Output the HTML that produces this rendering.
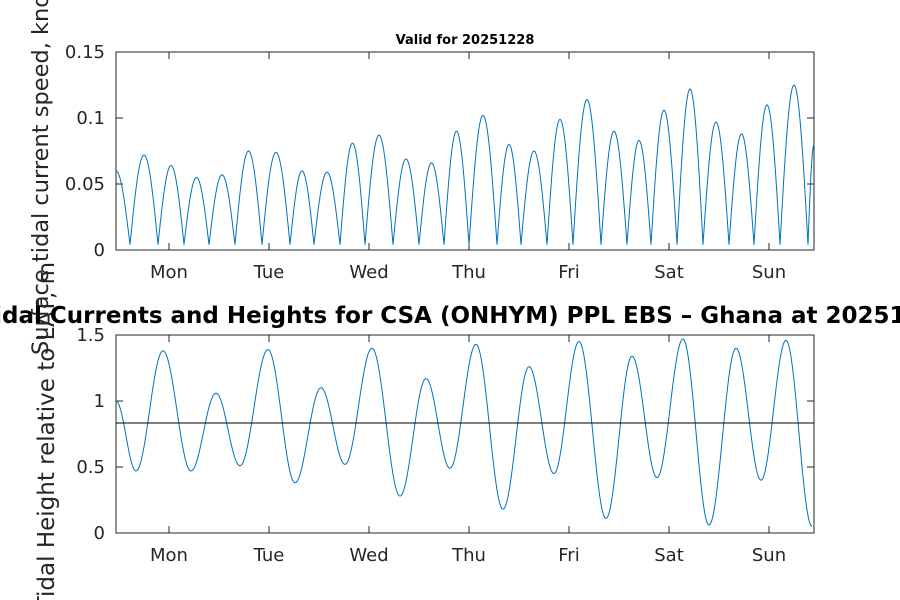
<!DOCTYPE html>
<html><head><meta charset="utf-8"><style>
body{margin:0;background:#fff;}
svg{display:block;font-family:"DejaVu Sans","Liberation Sans",sans-serif;}
</style></head><body>
<svg id="fig" width="900" height="600"></svg>
<script>
// ---- data (time in days from Monday 00:00) ----
const dayLabels = ["Mon","Tue","Wed","Thu","Fri","Sat","Sun"];
const speedTicks = [0,0.05,0.1,0.15];
const heightTicks = [0,0.5,1,1.5];
// current speed lobes: zero-crossing times and peak values
const speedZeros = [-0.39,-0.11,0.15,0.40,0.66,0.93,1.21,1.45,1.71,1.96,2.24,2.50,2.75,3.00,3.28,3.52,3.78,4.04,4.32,4.58,4.82,5.08,5.34,5.60,5.85,6.11,6.39];
const speedPeaks = [0.072,0.064,0.055,0.057,0.075,0.074,0.060,0.059,0.081,0.087,0.069,0.066,0.090,0.102,0.080,0.075,0.099,0.114,0.090,0.083,0.106,0.122,0.097,0.088,0.110,0.125];
const speedStart = 0.060, speedEnd = 0.080;
// tidal height extremes
const heightTimes = [-0.53,-0.33,-0.06,0.22,0.47,0.71,0.99,1.26,1.52,1.76,2.03,2.31,2.57,2.81,3.07,3.34,3.60,3.85,4.10,4.37,4.63,4.88,5.14,5.40,5.67,5.92,6.17,6.43];
const heightVals  = [1.00,0.47,1.38,0.47,1.06,0.51,1.39,0.38,1.10,0.52,1.40,0.28,1.17,0.49,1.43,0.18,1.26,0.45,1.45,0.11,1.34,0.42,1.47,0.06,1.40,0.40,1.46,0.05];
const meanLevel = 0.833;

const NS="http://www.w3.org/2000/svg";
const svg=document.getElementById('fig');
function el(tag,attrs,parent){const e=document.createElementNS(NS,tag);for(const k in attrs)e.setAttribute(k,attrs[k]);(parent||svg).appendChild(e);return e;}
const X0=116,X1=814,T0=-0.53,T1=6.45;
const xs=t=>X0+(t-T0)/(T1-T0)*(X1-X0);

function axes(name,top,bot,ymax,ticks,fmt){
  const ys=v=>bot-(v/ymax)*(bot-top);
  const g=el('g',{});
  
  
  el('rect',{x:X0,y:top,width:X1-X0,height:bot-top,fill:'#fff',stroke:'#262626','stroke-width':1},g);
  ticks.forEach(v=>{
    const y=ys(v);
    el('line',{x1:X0,x2:X0+7,y1:y,y2:y,stroke:'#262626'},g);
    el('line',{x1:X1,x2:X1-7,y1:y,y2:y,stroke:'#262626'},g);
    const t=el('text',{x:X0-11,y:y+6,'text-anchor':'end','font-size':18,fill:'#262626'},g);
    t.textContent=fmt(v);
    
    
  });
  dayLabels.forEach((d,i)=>{
    const xx=xs(i);
    el('line',{x1:xx,x2:xx,y1:bot,y2:bot-7,stroke:'#262626'},g);
    el('line',{x1:xx,x2:xx,y1:top,y2:top+7,stroke:'#262626'},g);
    const t=el('text',{x:xx,y:bot+28,'text-anchor':'middle','font-size':18,fill:'#262626'},g);
    t.textContent=d;
    
    
  });
  return ys;
}

// y-axis titles (drawn first, behind axes)
let t=el('text',{x:0,y:0,'text-anchor':'start','font-size':22.5,fill:'#262626',transform:'translate(48,355) rotate(-90)'});
t.textContent='Surface tidal current speed, knots';


t=el('text',{x:0,y:0,'text-anchor':'end','font-size':23,fill:'#262626',transform:'translate(54,262) rotate(-90)'});
t.textContent='Tidal Height relative to LAT, m';



// top axes
const ysA=axes('speed-axes',52,250,0.15,speedTicks,v=>String(v));
let pts=[];
{const z=speedZeros[0];
 for(let k=0;k<=20;k++){const tt=T0+(z-T0)*k/20;const c=Math.cos(Math.PI/2*(tt-T0)/(z-T0));const v=speedStart*c+0.004*(1-c);pts.push([xs(tt),ysA(v)]);}}
for(let i=0;i<speedPeaks.length;i++){
  const a=speedZeros[i],b=speedZeros[i+1];
  for(let k=1;k<=30;k++){const tt=a+(b-a)*k/30;const v=0.004+(speedPeaks[i]-0.004)*Math.sin(Math.PI*k/30);pts.push([xs(tt),ysA(v)]);}
}
{const z=speedZeros[speedZeros.length-1];for(let k=1;k<=10;k++){const tt=z+(T1-z)*k/10;const v=0.004+(speedEnd-0.004)*Math.sin(Math.PI/2*k/10);pts.push([xs(tt),ysA(v)]);}}
const l1=el('polyline',{points:pts.map(p=>p.join(',')).join(' '),fill:'none',stroke:'#0072BD','stroke-width':1});



// bottom axes
const ysB=axes('height-axes',335,533,1.5,heightTicks,v=>String(v));
pts=[];
for(let i=0;i<heightTimes.length-1;i++){
  const a=heightTimes[i],b=heightTimes[i+1],va=heightVals[i],vb=heightVals[i+1];
  for(let k=(i?1:0);k<=30;k++){const f=k/30;const tt=a+(b-a)*f;const v=va+(vb-va)*(1-Math.cos(Math.PI*f))/2;pts.push([xs(tt),ysB(v)]);}
}
const l2=el('polyline',{points:pts.map(p=>p.join(',')).join(' '),fill:'none',stroke:'#0072BD','stroke-width':1});


const ml=el('line',{x1:X0,x2:X1,y1:ysB(meanLevel),y2:ysB(meanLevel),stroke:'#000','stroke-width':1});



// titles
t=el('text',{x:465,y:44,'text-anchor':'middle','font-size':13,'font-weight':'bold',fill:'#000'});
t.textContent='Valid for 20251228';


t=el('text',{x:466,y:323,'text-anchor':'middle','font-size':23,'font-weight':'bold',fill:'#000'});
t.textContent='Tidal Currents and Heights for CSA (ONHYM) PPL EBS  \u2013 Ghana at 20251228';


</script>
</body></html>
